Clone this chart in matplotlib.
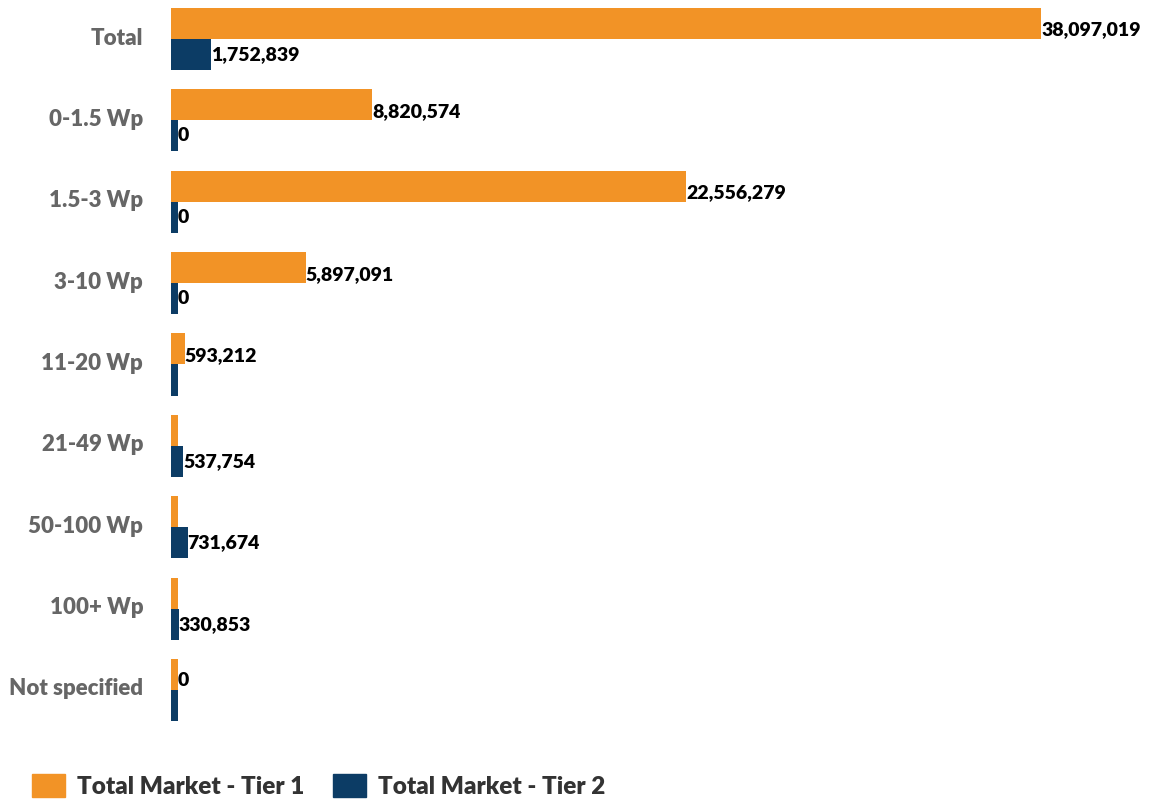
import matplotlib

matplotlib.use("Agg")
import matplotlib.pyplot as plt
import matplotlib.transforms as mtransforms
import numpy as np
from matplotlib.patches import Patch

# market size by system size band
categories = ["Total", "0-1.5 Wp", "1.5-3 Wp", "3-10 Wp", "11-20 Wp",
              "21-49 Wp", "50-100 Wp", "100+ Wp", "Not specified"]
tier1 = [38097019, 8820574, 22556279, 5897091, 593212, None, None, None, 0]
tier2 = [1752839, 0, 0, 0, None, 537754, 731674, 330853, None]
series_names = ["Total Market - Tier 1", "Total Market - Tier 2"]

ORANGE = "#F29326"
NAVY = "#0C3C65"
MIN_STUB = 300000  # smallest bar drawn so zero rows stay visible

plt.rcParams["font.family"] = ["Lato", "DejaVu Sans"]

fig = plt.figure(figsize=(11.52, 8.02), dpi=100)
W, H = 1152, 802
ax = fig.add_axes([171 / W, 1 - 726.6 / H, (1100 - 171) / W, (726.6 - 2.4) / H])

y = np.arange(len(categories))
h = 0.381


def widths(values):
    return [max(v if v is not None else 0, MIN_STUB) for v in values]


ax.barh(y - h / 2, widths(tier1), height=h, color=ORANGE)
ax.barh(y + h / 2, widths(tier2), height=h, color=NAVY)

for yi, v in zip(y, tier1):
    if v is None:
        continue
    ax.text(max(v, MIN_STUB), yi - h / 2 + 0.08, f"{v:,}", ha="left",
            va="center", fontsize=14, fontweight="heavy", color="black")
for yi, v in zip(y, tier2):
    if v is None:
        continue
    ax.text(max(v, MIN_STUB), yi + h / 2, f"{v:,}", ha="left",
            va="center", fontsize=14, fontweight="heavy", color="black")

ax.set_xlim(0, 38097019 * (1100 - 171) / 870)
ax.set_ylim(8.45, -0.45)
ax.set_yticks(y)
ax.set_yticklabels(categories, fontsize=16, fontweight="heavy", color="#666666")
ax.tick_params(axis="y", length=0, pad=20)
ax.set_xticks([])
for spine in ax.spines.values():
    spine.set_visible(False)

# nudge category labels up a little
lift = mtransforms.ScaledTranslation(0, 3 / 100, fig.dpi_scale_trans)
for lbl in ax.get_yticklabels():
    lbl.set_transform(lbl.get_transform() + lift)

handles = [Patch(color=ORANGE), Patch(color=NAVY)]
leg = fig.legend(handles, series_names, loc="center left",
                 bbox_to_anchor=(22 / W, 1 - 786 / H), ncol=2, frameon=False,
                 fontsize=17.5, handlelength=1.35, handleheight=1.03,
                 handletextpad=0.5, columnspacing=1.2, borderaxespad=0)
for t in leg.get_texts():
    t.set_fontweight("heavy")
    t.set_color("#333333")

fig.savefig("out.png", dpi=100)
